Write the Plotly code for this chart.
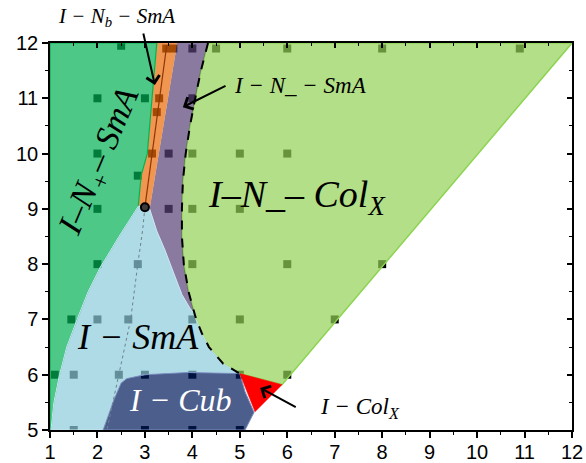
import plotly.graph_objects as go

# ---- measured state points (x, y) ----
pts_x = [1.1, 1.5, 1.5, 1.45, 2.0, 2.0, 2.0, 2.0, 2.0, 2.5, 2.85, 2.85, 2.65, 2.45, 3.0, 3.0, 3.0,
         3.15, 3.25, 3.3, 3.45, 3.6, 3.5, 3.5, 4.0, 4.0, 4.0, 4.0, 4.0, 4.0, 4.0, 4.0,
         4.5, 5.0, 5.0, 5.0, 5.0, 5.0, 6.0, 6.0, 6.0, 6.0, 7.0, 8.0, 8.0, 10.9]
pts_y = [6.0, 6.0, 5.0, 7.0, 7.0, 8.0, 9.0, 10.0, 11.0, 11.95, 9.6, 8.0, 7.0, 6.0, 6.0, 5.0, 11.0,
         10.0, 10.75, 11.0, 11.9, 11.9, 10.0, 9.0, 11.9, 11.0, 10.0, 9.0, 8.0, 7.0, 6.0, 5.0,
         11.9, 10.0, 9.0, 7.0, 6.0, 5.0, 11.9, 10.0, 8.0, 6.0, 7.0, 8.0, 11.9, 11.9]

# triple point
tp_x = [3.0]
tp_y = [9.03]

# ---- phase boundaries ----
# I-N_ boundary (dashed), upper part down to the end of the I-N_-SmA wedge
nm_x = [4.33, 4.18, 4.06, 3.95, 3.86, 3.80, 3.78, 3.78, 3.82, 3.92, 4.00, 4.05]
nm_y = [12.0, 11.5, 11.0, 10.5, 10.0, 9.5, 9.0, 8.5, 8.0, 7.5, 7.25, 7.1]
# lower part of the same line, bordering I-SmA
nl_x = [4.05, 4.08, 4.20, 4.35, 4.65, 5.00]
nl_y = [7.1, 7.0, 6.75, 6.5, 6.2, 6.02]
# I-N_-SmA / I-SmA boundary
pb_x = [3.10, 3.25, 3.42, 3.60, 3.78, 3.95, 4.05]
pb_y = [9.0, 8.6, 8.26, 7.85, 7.45, 7.2, 7.1]
# I-N+-SmA / I-Nb-SmA boundary
go_x = [2.86, 2.92, 3.05, 3.15, 3.25]
go_y = [9.05, 9.6, 10.0, 11.0, 12.0]
# I-Nb-SmA / I-N_-SmA boundary
op_x = [3.10, 3.68]
op_y = [9.0, 12.0]
# I-N+-SmA / I-SmA boundary
gb_x = [2.86, 2.45, 2.05, 1.80, 1.57, 1.35, 1.20, 1.08, 1.02]
gb_y = [9.05, 8.5, 7.93, 7.5, 7.0, 6.5, 6.0, 5.5, 5.0]
# I-Cub outline (left and top edge, then right edge)
cub_top_x = [2.12, 2.35, 2.50, 2.62, 3.0, 3.9, 5.0]
cub_top_y = [5.0, 5.55, 5.85, 5.93, 6.0, 6.04, 6.02]
cub_right_x = [5.11, 5.30, 5.11]
cub_right_y = [5.69, 5.32, 5.0]
# I-ColX pocket
colx_x = [5.0, 5.89, 5.32]
colx_y = [6.02, 5.82, 5.33]
# clearing line of I-N_-ColX
edge_x = [5.89, 12.0]
edge_y = [5.82, 12.0]
# Nb line through the I-Nb-SmA points
nb_x = [3.0, 3.46]
nb_y = [9.03, 11.96]
# dotted guide inside I-SmA
dot_x = [3.0, 2.95, 2.85, 2.70, 2.45, 2.20]
dot_y = [9.03, 8.6, 8.0, 7.0, 6.0, 5.0]

fig = go.Figure()

# state points below the translucent phase areas
fig.add_trace(go.Scatter(x=pts_x, y=pts_y, mode="markers",
                         marker=dict(symbol="square", size=8, color="black"),
                         hoverinfo="skip"))


def area(xs, ys, fill, line_color, width=1.0):
    fig.add_trace(go.Scatter(x=xs, y=ys, mode="lines", fill="toself", fillcolor=fill,
                             line=dict(color=line_color, width=width), hoverinfo="skip"))


# I-N_-ColX
area(nm_x + nl_x[1:] + edge_x + [12.0, nm_x[0]],
     nm_y + nl_y[1:] + edge_y + [12.0, nm_y[0]],
     "rgba(146,209,84,0.7)", "rgb(140,212,80)", 1.5)
# I-N_-SmA
area([op_x[1]] + nm_x + pb_x[::-1] + [op_x[1]],
     [op_y[1]] + nm_y + pb_y[::-1] + [op_y[1]],
     "rgba(89,66,119,0.7)", "rgba(89,66,119,0.0)", 0.5)
# I-Nb-SmA
area(go_x + op_x[::-1] + [go_x[0]],
     go_y + op_y[::-1] + [go_y[0]],
     "rgba(234,105,5,0.7)", "rgba(234,105,5,0.0)", 0.5)
# I-N+-SmA
area([1.0] + go_x[::-1] + gb_x[1:] + [1.0, 1.0],
     [12.0] + go_y[::-1] + gb_y[1:] + [5.0, 12.0],
     "rgba(2,176,84,0.7)", "rgb(0,180,80)", 1.2)
# I-SmA
area(gb_x + cub_top_x + nl_x[::-1] + pb_x[::-1] + [gb_x[0]],
     gb_y + cub_top_y + nl_y[::-1] + pb_y[::-1] + [gb_y[0]],
     "rgba(139,204,218,0.7)", "rgb(205,228,242)", 1.0)
# I-Cub
area(cub_top_x + cub_right_x + [cub_top_x[0]],
     cub_top_y + cub_right_y + [cub_top_y[0]],
     "rgba(0,26,91,0.7)", "rgb(120,140,190)", 1.0)
# I-ColX
area(colx_x + [colx_x[0]], colx_y + [colx_y[0]], "rgb(255,0,0)", "rgb(255,0,0)", 0.5)

# guide lines
fig.add_trace(go.Scatter(x=nb_x, y=nb_y, mode="lines",
                         line=dict(color="rgb(140,55,5)", width=1.2), hoverinfo="skip"))
fig.add_trace(go.Scatter(x=dot_x, y=dot_y, mode="lines",
                         line=dict(color="rgb(110,130,140)", width=1, dash="dot"),
                         hoverinfo="skip"))
fig.add_trace(go.Scatter(x=nm_x + nl_x[1:], y=nm_y + nl_y[1:], mode="lines",
                         line=dict(color="black", width=2, dash="dash"), hoverinfo="skip"))
fig.add_trace(go.Scatter(x=tp_x, y=tp_y, mode="markers",
                         marker=dict(symbol="circle", size=8, color="rgb(60,60,60)",
                                     line=dict(color="black", width=2)),
                         hoverinfo="skip"))

serif = "Liberation Serif, Times New Roman, serif"
# phase labels inside the plot (data coordinates)
labels = [
    ("<i>I − N_ − SmA</i>", 6.27, 11.24, 23, 0, "black"),
    ("<i>I–N_– Col<sub>X</sub></i>", 6.2, 9.22, 38, 0, "black"),
    ("<i>I–N<sub>+</sub>– SmA</i>", 2.05, 9.85, 34, -67, "black"),
    ("<i>I − SmA</i>", 2.85, 6.68, 36, 0, "black"),
    ("<i>I − Cub</i>", 3.74, 5.54, 32, 0, "white"),
    ("<i>I − Col<sub>X</sub></i>", 7.53, 5.40, 23, 0, "black"),
]
for text, lx, ly, size, ang, col in labels:
    fig.add_annotation(x=lx, y=ly, xref="x", yref="y", text=text, showarrow=False,
                       textangle=ang, font=dict(family=serif, size=size, color=col))

# label above the frame (x in data units, y in paper units)
fig.add_annotation(x=2.41, y=1.068, xref="x", yref="paper", yanchor="middle",
                   text="<i>I − N<sub>b</sub> − SmA</i>",
                   showarrow=False, font=dict(family=serif, size=21, color="black"))

# pointer arrows: (head x, head y, tail x, tail y)
arrows = [
    (3.21, 11.24, 2.96, 12.2),
    (3.80, 10.84, 4.73, 11.24),
    (5.43, 5.76, 6.21, 5.40),
]
for hx, hy, tx, ty in arrows:
    fig.add_annotation(x=hx, y=hy, ax=tx, ay=ty, xref="x", yref="y", axref="x", ayref="y",
                       text="", showarrow=True, arrowhead=4, arrowsize=1.3, arrowwidth=2,
                       arrowcolor="black")

tickfont = dict(family="Liberation Sans, Arial", size=20, color="black")
common = dict(showline=True, linecolor="black", linewidth=1.5, showgrid=False,
              zeroline=False, automargin=False)
fig.update_layout(
    width=586, height=463,
    margin=dict(l=50, r=14, t=43, b=33, autoexpand=False),
    paper_bgcolor="white", plot_bgcolor="white",
    showlegend=False,
    xaxis=dict(range=[1, 12], tickmode="array", tickvals=list(range(1, 13)),
               ticks="outside", ticklen=6, tickwidth=1.5, tickcolor="black",
               ticklabelstandoff=-3,
               minor=dict(dtick=0.5, tick0=1, ticks="outside", ticklen=3, tickwidth=1.2,
                          tickcolor="black"),
               tickfont=tickfont, **common),
    yaxis=dict(range=[5, 12], tickmode="array", tickvals=list(range(5, 13)),
               ticks="outside", ticklen=6, tickwidth=1.5, tickcolor="black",
               minor=dict(dtick=0.5, tick0=5, ticks="outside", ticklen=3, tickwidth=1.2,
                          tickcolor="black"),
               tickfont=tickfont, **common),
    xaxis2=dict(range=[1, 12], overlaying="x", side="top", anchor="y",
                tickmode="array", tickvals=list(range(1, 13)), showticklabels=False,
                ticks="inside", ticklen=5, tickwidth=1.5, tickcolor="black",
                minor=dict(dtick=0.5, tick0=1, ticks="inside", ticklen=3, tickwidth=1.2,
                           tickcolor="black"),
                **common),
    yaxis2=dict(range=[5, 12], overlaying="y", side="right", anchor="x",
                tickmode="array", tickvals=list(range(5, 13)), showticklabels=False,
                ticks="inside", ticklen=5, tickwidth=1.5, tickcolor="black",
                minor=dict(dtick=0.5, tick0=5, ticks="inside", ticklen=3, tickwidth=1.2,
                           tickcolor="black"),
                **common),
)
# empty trace so the mirrored top/right axes are drawn
fig.add_trace(go.Scatter(x=[], y=[], xaxis="x2", yaxis="y2", hoverinfo="skip"))

fig.write_html("out.html")
